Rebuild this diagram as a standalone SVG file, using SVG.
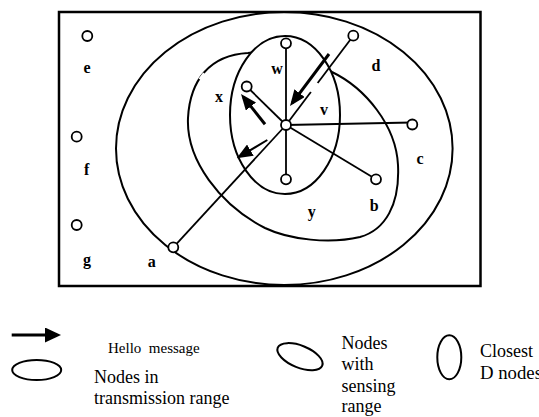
<svg xmlns="http://www.w3.org/2000/svg" width="539" height="417" viewBox="0 0 539 417">
<style>
.frame{fill:none;stroke:#000;stroke-width:2.5}
.rng{fill:none;stroke:#000;stroke-width:2}
.inner{fill:#fff;stroke:#000;stroke-width:2}
.edge{stroke:#000;stroke-width:1.8;fill:none}
.msg{stroke:#000;stroke-width:3;fill:none;marker-end:url(#head)}
.node{fill:#fff;stroke:#000;stroke-width:1.8}
.lbl{font-family:"Liberation Serif","Times New Roman",serif;font-weight:bold;font-size:16px;fill:#000;text-anchor:middle}
.leg{font-family:"Liberation Serif","Times New Roman",serif;font-size:18px;fill:#000}
.gap{stroke:#fff;stroke-width:3.5}
</style>
<defs>
<marker id="head" viewBox="0 0 16 13" markerWidth="16" markerHeight="13" refX="12" refY="6.5" orient="auto" markerUnits="userSpaceOnUse">
<path d="M0,0 L16,6.5 L0,13 z" fill="#000"/>
</marker>
<marker id="headL" viewBox="0 0 16 15" markerWidth="16" markerHeight="15" refX="12" refY="7.5" orient="auto" markerUnits="userSpaceOnUse">
<path d="M0,0 L16,7.5 L0,15 z" fill="#000"/>
</marker>
</defs>

<rect class="frame" x="59" y="12" width="421.5" height="274"/>

<g id="regions">
<ellipse id="transmission-range" class="rng" cx="284.3" cy="148.5" rx="168.3" ry="136.5"/>
<path id="sensing-range" class="rng" d="M248,53 C210,55 190,80 188,118 C186,160 220,205 265,228 C290,240 330,244 360,237 C385,230 400,205 398,165 C396,125 365,88 332,72 C310,60 280,48 248,53 Z"/>
<line class="gap" x1="204.5" y1="73.5" x2="200" y2="79.5"/>
<ellipse id="closest-d" class="inner" cx="285" cy="115" rx="55" ry="79"/>
</g>

<g id="connectors">
<line class="edge" x1="286" y1="125" x2="286" y2="43"/>
<line class="edge" x1="286" y1="125" x2="286" y2="179"/>
<line class="edge" x1="286" y1="125" x2="246.7" y2="86.5"/>
<line class="edge" x1="286" y1="125" x2="353.3" y2="35.7"/>
<line class="gap" x1="317.7" y1="83" x2="310.9" y2="92"/>
<line class="edge" x1="286" y1="125" x2="412" y2="122.5"/>
<line class="edge" x1="286" y1="125" x2="376" y2="179.3"/>
<line class="edge" x1="286" y1="125" x2="173.3" y2="247.3"/>
<line class="msg" x1="329" y1="54" x2="292.4" y2="102.8"/>
<line class="msg" x1="265" y1="124.3" x2="243.5" y2="97.1"/>
<line class="msg" style="stroke-width:2" x1="267.3" y1="140" x2="240.1" y2="156.3"/>
</g>

<g id="node-center"><circle class="node" cx="286" cy="125" r="5"/></g>
<g id="node-w"><circle class="node" cx="286" cy="43.3" r="5"/><text class="lbl" x="277" y="73.5">w</text></g>
<g id="node-x"><circle class="node" cx="246.7" cy="86.5" r="5"/><text class="lbl" x="219" y="101.5">x</text></g>
<g id="node-v"><text class="lbl" x="324" y="114.5">v</text></g>
<g id="node-y"><circle class="node" cx="286" cy="179.3" r="5"/><text class="lbl" x="311.7" y="216.5">y</text></g>
<g id="node-d"><circle class="node" cx="353.3" cy="35.7" r="5"/><text class="lbl" x="376" y="71">d</text></g>
<g id="node-c"><circle class="node" cx="412.3" cy="124.5" r="5"/><text class="lbl" x="420" y="164">c</text></g>
<g id="node-b"><circle class="node" cx="376" cy="179.3" r="5"/><text class="lbl" x="374.3" y="210.5">b</text></g>
<g id="node-a"><circle class="node" cx="173.3" cy="247.3" r="5"/><text class="lbl" x="151.7" y="266.5">a</text></g>
<g id="node-e"><circle class="node" cx="87.3" cy="36" r="5"/><text class="lbl" x="87" y="72.5">e</text></g>
<g id="node-f"><circle class="node" cx="76.7" cy="136.7" r="5"/><text class="lbl" x="86.7" y="175">f</text></g>
<g id="node-g"><circle class="node" cx="76.7" cy="225" r="5"/><text class="lbl" x="87" y="265">g</text></g>

<g id="legend">
<line x1="11.7" y1="335" x2="57" y2="335" stroke="#000" stroke-width="3" marker-end="url(#headL)"/>
<text class="leg" x="108" y="352.7" style="font-size:15px;white-space:pre">Hello  message</text>
<ellipse class="rng" cx="36.7" cy="370" rx="24.5" ry="10"/>
<text class="leg" x="94" y="383">Nodes in</text>
<text class="leg" x="94" y="403.5">transmission range</text>
<ellipse class="rng" cx="300" cy="356.7" rx="24" ry="11" transform="rotate(22 300 356.7)"/>
<text class="leg" x="341.5" y="348.5">Nodes</text>
<text class="leg" x="341.5" y="370">with</text>
<text class="leg" x="341.5" y="391.5">sensing</text>
<text class="leg" x="341.5" y="412">range</text>
<ellipse class="rng" cx="449.3" cy="357.3" rx="12" ry="22"/>
<text class="leg" x="480" y="356.7">Closest</text>
<text class="leg" x="480" y="379" textLength="62" lengthAdjust="spacingAndGlyphs">D nodes</text>
</g>
</svg>
